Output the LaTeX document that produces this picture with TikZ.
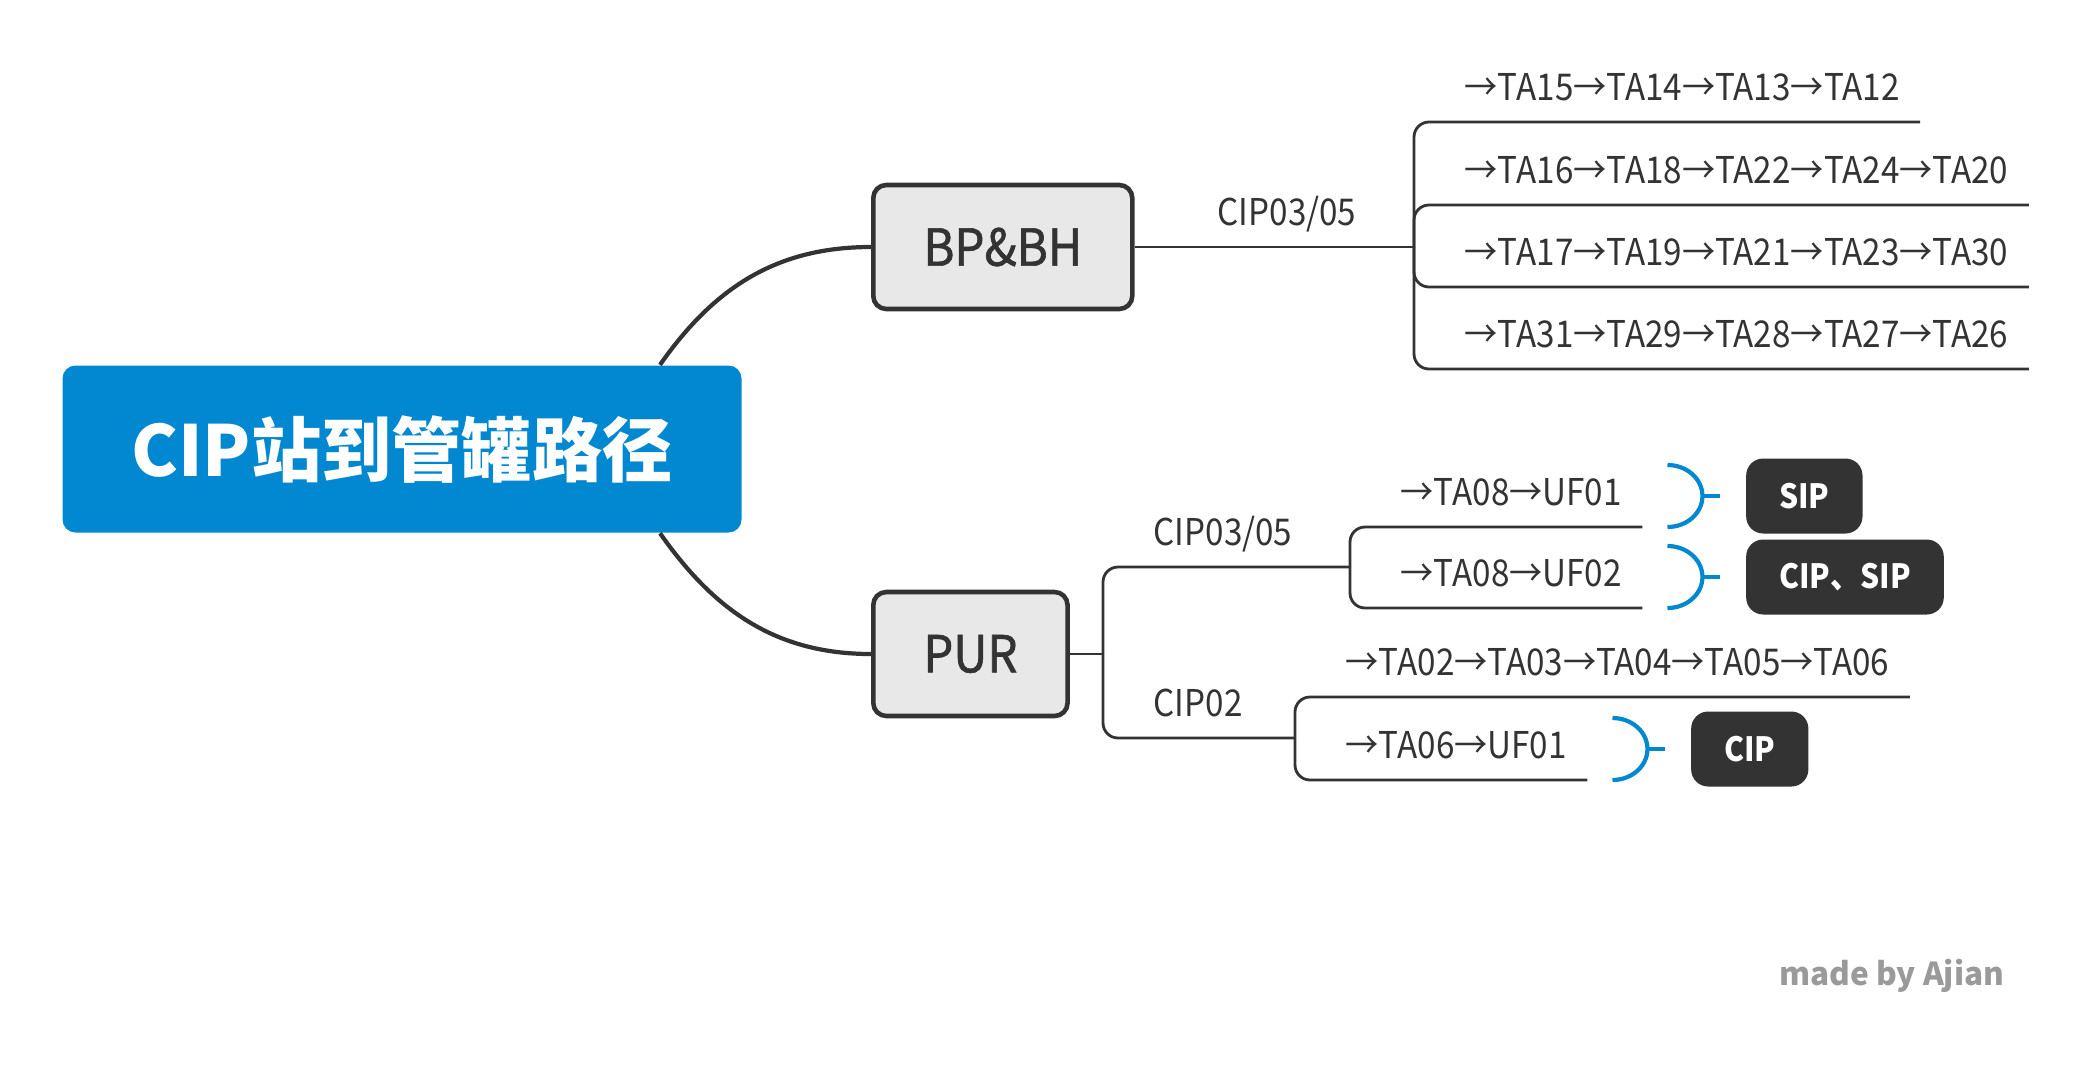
\documentclass[tikz,border=0pt]{standalone}
\usepackage{fontspec}
\setmainfont{Noto Sans CJK SC}
\newfontfamily\leaffont[FakeStretch=0.9,Numbers=Proportional]{Noto Sans CJK SC}
\newfontfamily\topicfont[FakeStretch=0.93,FakeBold=1.2]{Noto Sans CJK SC}
\newfontfamily\tagfont[FakeStretch=0.9]{Noto Sans CJK SC}
\usetikzlibrary{positioning}

\definecolor{rootblue}{HTML}{0288D1}
\definecolor{ink}{HTML}{333333}
\definecolor{topicgray}{HTML}{E8E8E8}
\definecolor{signgray}{HTML}{9A9A9A}

\tikzset{
	root/.style={fill=rootblue, rounded corners=0.13cm, minimum width=6.79cm,
		minimum height=1.67cm, text=white, font=\bfseries\fontsize{20}{24}\selectfont},
	topic/.style={draw=ink, line width=1.3pt, fill=topicgray, rounded corners=0.13cm,
		minimum height=1.24cm, inner xsep=0.5cm, anchor=west, text=ink,
		font=\topicfont\fontsize{14.5}{17}\selectfont},
	leaf/.style={inner xsep=0.2cm, inner ysep=0pt, text height=0.25cm, text depth=0.21cm,
		anchor=south west, text=ink, font=\leaffont\fontsize{10.5}{12}\selectfont},
	tag/.style={fill=ink, rounded corners=0.17cm, minimum height=0.75cm, inner xsep=0.33cm,
		anchor=west, text=white, font=\tagfont\bfseries\fontsize{9.5}{11}\selectfont},
	trunk/.style={draw=ink, line width=1.2pt},
	branch/.style={draw=ink, line width=0.8pt, rounded corners=0.15cm},
	summary/.style={draw=rootblue, line width=1.2pt},
}

\begin{document}
\begin{tikzpicture}

\def\width{20.97}
\def\height{10.87}

\path [use as bounding box] (0,0) rectangle (\width,\height);

% TOPICS
\node [root] (cip) at (4.02,6.38) {CIP站到管罐路径};
\node [topic] (bp) at (8.71,8.40) {BP\&BH};
\node [topic] (pur) at (8.71,4.33) {PUR};

\draw [trunk] ([xshift=2.58cm]cip.north) to[out=55,in=180] (bp.west);
\draw [trunk] ([xshift=2.58cm]cip.south) to[out=-55,in=180] (pur.west);

% BP&BH
\coordinate (jb) at (14.14,8.40);
\node [leaf] (bl) at (11.97,8.40) {CIP03/05};
\draw [branch] (bp.east) -- (jb);

\node [leaf] (b1) at (14.44,9.65) {→TA15→TA14→TA13→TA12};
\node [leaf] (b2) at (14.44,8.82) {→TA16→TA18→TA22→TA24→TA20};
\node [leaf] (b3) at (14.44,8.00) {→TA17→TA19→TA21→TA23→TA30};
\node [leaf] (b4) at (14.44,7.18) {→TA31→TA29→TA28→TA27→TA26};
\foreach \n in {b1,b2,b3,b4}
	\draw [branch] (jb) |- (\n.south east);

% PUR
\coordinate (jp) at (11.03,4.33);
\coordinate (j1) at (13.50,5.20);
\coordinate (j2) at (12.95,3.49);
\draw [branch] (pur.east) -- (jp);

\node [leaf] (p1) at (11.33,5.20) {CIP03/05};
\node [leaf] (p2) at (11.33,3.49) {CIP02};
\draw [branch] (jp) |- (j1);
\draw [branch] (jp) |- (j2);

\node [leaf] (q1) at (13.80,5.60) {→TA08→UF01};
\node [leaf] (q2) at (13.80,4.79) {→TA08→UF02};
\draw [branch] (j1) |- (q1.south east);
\draw [branch] (j1) |- (q2.south east);

\node [leaf] (r1) at (13.25,3.90) {→TA02→TA03→TA04→TA05→TA06};
\node [leaf] (r2) at (13.25,3.07) {→TA06→UF01};
\draw [branch] (j2) |- (r1.south east);
\draw [branch] (j2) |- (r2.south east);

% SUMMARIES
\node [tag] (sip) at ([xshift=1.03cm,yshift=0.31cm]q1.south east) {SIP};
\node [tag] (cipsip) at ([xshift=1.03cm,yshift=0.31cm]q2.south east) {CIP、SIP};
\node [tag] (ciponly) at ([xshift=1.03cm,yshift=0.31cm]r2.south east) {CIP};

\foreach \n/\t in {q1/sip,q2/cipsip,r2/ciponly} {
	\draw [summary] ([xshift=0.25cm]\n.south east)
		arc[start angle=-90, end angle=90, x radius=0.35cm, y radius=0.31cm];
	\draw [summary] ([xshift=-0.43cm]\t.west) -- ([xshift=-0.25cm]\t.west);
}

% SIGNATURE
\node [anchor=base east, inner sep=0pt, text=signgray, font=\bfseries\fontsize{9}{11}\selectfont]
	(sign) at (20.05,1.02) {made by Ajian};

\end{tikzpicture}
\end{document}
